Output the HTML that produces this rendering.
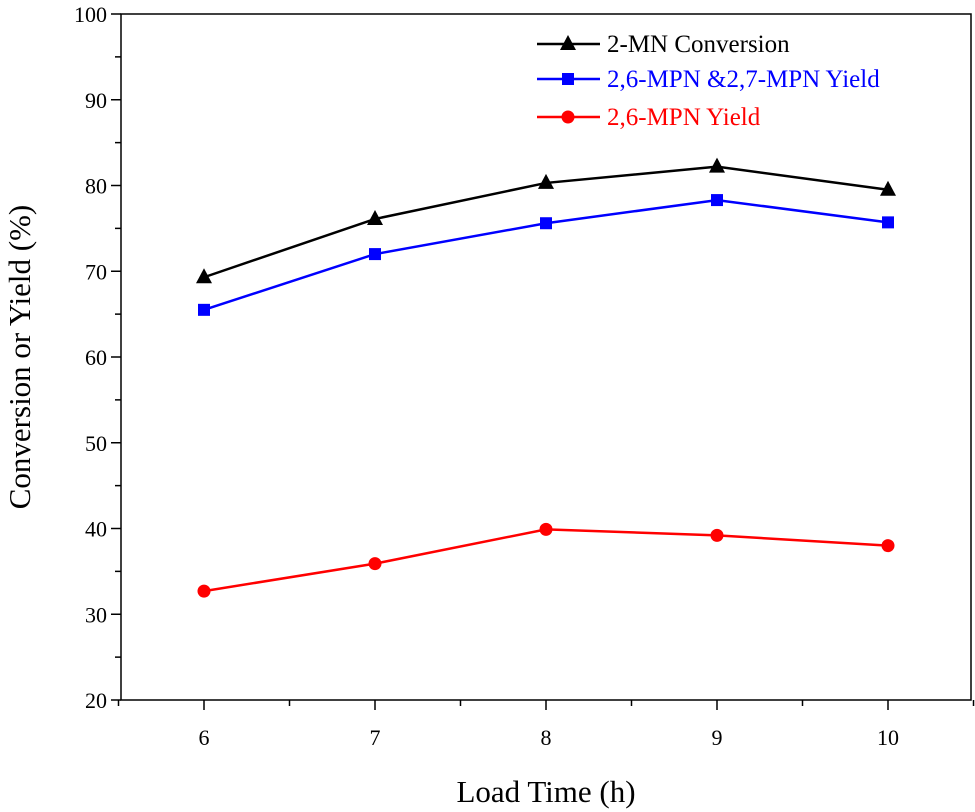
<!DOCTYPE html>
<html><head><meta charset="utf-8"><style>
html,body{margin:0;padding:0;background:#fff}
svg{display:block;font-family:"Liberation Serif",serif}
</style></head><body>
<svg id="chart" width="975" height="812"></svg>
<script>
const categories=[6,7,8,9,10];
const conv=[69.3,76.1,80.3,82.2,79.5];
const yieldBoth=[65.5,72.0,75.6,78.3,75.7];
const yield26=[32.7,35.9,39.9,39.2,38.0];
const yTicks=[20,30,40,50,60,70,80,90,100];
const xTicks=[6,7,8,9,10];
const seriesNames=["2-MN Conversion","2,6-MPN &2,7-MPN Yield","2,6-MPN Yield"];

const NS="http://www.w3.org/2000/svg";
const svg=document.getElementById('chart');
const L=121,R=971,T=14,B=700;
const xs=v=>204+(v-6)*171;
const ys=v=>B-(v-20)/80*(B-T);
function mk(tag,attrs,parent){const e=document.createElementNS(NS,tag);for(const k in attrs)e.setAttribute(k,attrs[k]);(parent||svg).appendChild(e);return e;}

const frame=mk('rect',{x:L,y:T,width:R-L,height:B-T,fill:'none',stroke:'#000','stroke-width':1.5});



const yAx=mk('g',{});


for(let v=20;v<=100;v+=5){
  const major=v%10===0;
  mk('line',{x1:L-(major?10:6),x2:L,y1:ys(v),y2:ys(v),stroke:'#000','stroke-width':1.5},yAx);
}
yTicks.forEach(v=>{
  const t=mk('text',{x:L-14,y:ys(v)+8,'text-anchor':'end','font-size':22},yAx);
  t.textContent=v;
  
  
});
const xAx=mk('g',{});


for(let v=5.5;v<=10.5;v+=0.5){
  const major=Number.isInteger(v);
  mk('line',{x1:xs(v),x2:xs(v),y1:B,y2:B+(major?10:6),stroke:'#000','stroke-width':1.5},xAx);
}
xTicks.forEach(v=>{
  const t=mk('text',{x:xs(v),y:B+45,'text-anchor':'middle','font-size':22},xAx);
  t.textContent=v;
  
  
});
const xt=mk('text',{x:546,y:802,'text-anchor':'middle','font-size':31});
xt.textContent='Load Time (h)';


const yt=mk('text',{x:0,y:0,'text-anchor':'middle','font-size':31,transform:'translate(30,357) rotate(-90)'});
yt.textContent='Conversion or Yield (%)';



function marker(shape,x,y,color,g){
  if(shape==='tri') return mk('polygon',{points:`${x},${y-9} ${x-8},${y+6} ${x+8},${y+6}`,fill:color},g);
  if(shape==='sq') return mk('rect',{x:x-6,y:y-6,width:12,height:12,fill:color},g);
  return mk('circle',{cx:x,cy:y,r:6.5,fill:color},g);
}
const series=[[conv,'#000','tri'],[yieldBoth,'#0000ff','sq'],[yield26,'#ff0000','circ']];
const sNames=['series-conversion','series-26-27-yield','series-26-yield'];
series.forEach(([vals,color,shape],i)=>{
  const g=mk('g',{});
  
  
  const pts=vals.map((v,j)=>xs(categories[j])+','+ys(v)).join(' ');
  mk('polyline',{points:pts,fill:'none',stroke:color,'stroke-width':2.5},g);
  vals.forEach((v,j)=>{
    const m=marker(shape,xs(categories[j]),ys(v),color,g);
    
    
  });
  const ly=[44,79,117][i];
  const lg=mk('g',{});
  
  
  mk('line',{x1:537,x2:600,y1:ly,y2:ly,stroke:color,'stroke-width':2.5},lg);
  marker(shape,568,ly,color,lg);
  const t=mk('text',{x:607,y:ly+8,'font-size':25,fill:color},lg);
  t.textContent=seriesNames[i];
});
</script>
</body></html>
